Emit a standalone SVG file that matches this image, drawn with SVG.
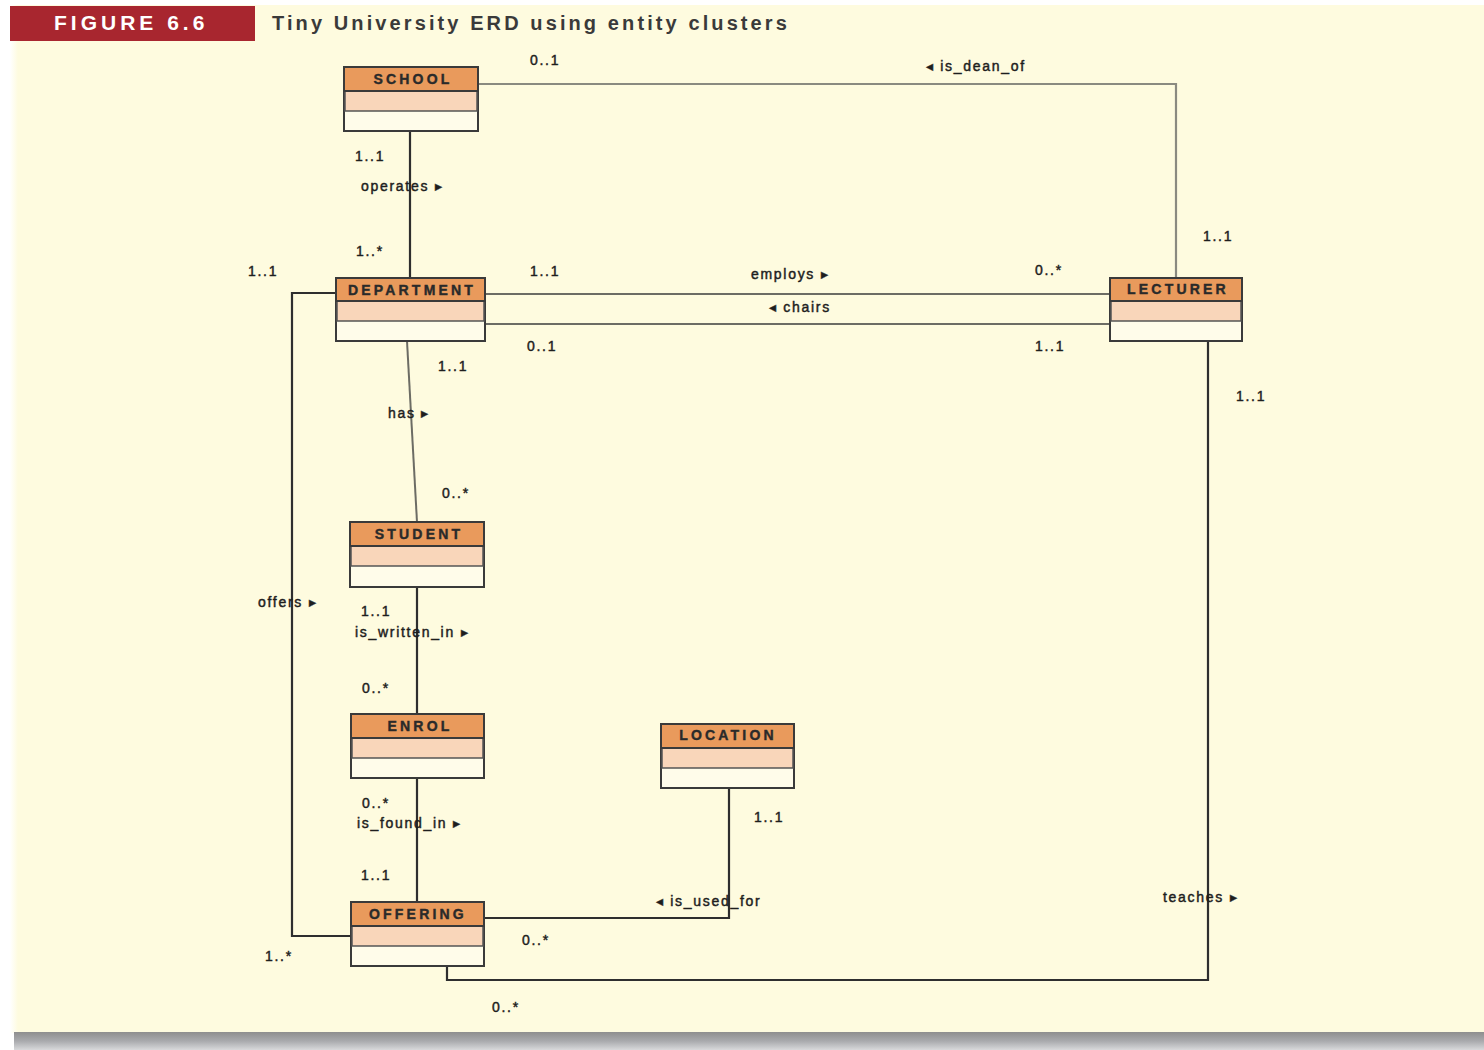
<svg xmlns="http://www.w3.org/2000/svg" width="1484" height="1050" viewBox="0 0 1484 1050">
  <defs>
    <linearGradient id="shadow" x1="0" y1="0" x2="0" y2="1">
      <stop offset="0" stop-color="#8e8e8e"/>
      <stop offset="0.5" stop-color="#a9aaad"/>
      <stop offset="1" stop-color="#d8d9db"/>
    </linearGradient>
    <linearGradient id="leftfade" x1="0" y1="0" x2="1" y2="0">
      <stop offset="0" stop-color="#ffffff"/>
      <stop offset="1" stop-color="#fefbdf"/>
    </linearGradient>
  </defs>
  <style>
    .ent-head { fill: #e99a5c; stroke: #3a3a3a; stroke-width: 2; }
    .ent-mid { fill: #f9d6ba; stroke: #555; stroke-width: 1.5; }
    .ent-body { fill: #fffcea; stroke: #3a3a3a; stroke-width: 2; }
    .ent-name { font-family: "Liberation Sans", Arial, sans-serif; font-size: 14px; font-weight: bold; fill: #2a2a2a; stroke: #2a2a2a; stroke-width: 0.4; text-anchor: middle; letter-spacing: 3.2px; }
    .lbl { font-family: "Liberation Sans", Arial, sans-serif; font-size: 14px; fill: #1e1e1e; stroke: #1e1e1e; stroke-width: 0.45; letter-spacing: 1.7px; }
    .dark { fill: none; stroke: #2e2e2e; stroke-width: 2.2; }
    .grey { fill: none; stroke: #8a8a80; stroke-width: 2.2; }
    .mid { fill: none; stroke: #6c6c64; stroke-width: 2; }
  </style>

  <!-- page -->
  <rect x="0" y="0" width="1484" height="1050" fill="#ffffff"/>
  <rect x="10" y="5" width="1474" height="1028" fill="#fefbdf"/>
  <rect x="10" y="5" width="8" height="1028" fill="url(#leftfade)"/>
  <rect x="14" y="1032" width="1470" height="18" fill="url(#shadow)"/>

  <!-- caption -->
  <g id="caption">
    <rect x="10" y="6" width="245" height="35" fill="#a8262f"/>
    <text x="54" y="30" font-family="Liberation Sans, Arial, sans-serif" font-size="21" font-weight="bold" fill="#ffffff" letter-spacing="4">FIGURE 6.6</text>
    <text x="272" y="30" font-family="Liberation Sans, Arial, sans-serif" font-size="20" font-weight="bold" fill="#3a3a3a" letter-spacing="3.1">Tiny University ERD using entity clusters</text>
  </g>

  <!-- relationships -->
  <g id="connectors">
    <polyline class="grey" points="478,84 1176,84 1176,278"/>
    <line class="dark" x1="410" y1="131" x2="410" y2="278"/>
    <line class="mid" x1="485" y1="294" x2="1110" y2="294"/>
    <line class="mid" x1="485" y1="324" x2="1110" y2="324"/>
    <line class="mid" x1="407" y1="341" x2="417" y2="522"/>
    <polyline class="dark" points="336,293 292,293 292,936 351,936"/>
    <line class="dark" x1="417" y1="587" x2="417" y2="714"/>
    <line class="dark" x1="417" y1="778" x2="417" y2="902"/>
    <polyline class="dark" points="484,918 729,918 729,788"/>
    <polyline class="dark" points="447,966 447,980 1208,980 1208,341"/>
  </g>

  <!-- entities -->
  <g id="school">
    <rect class="ent-body" x="344" y="67" width="134" height="64"/>
    <rect class="ent-mid" x="345" y="91" width="132" height="20"/>
    <rect class="ent-head" x="344" y="67" width="134" height="24"/>
    <text class="ent-name" x="413" y="84">SCHOOL</text>
  </g>
  <g id="department">
    <rect class="ent-body" x="336" y="278" width="149" height="63"/>
    <rect class="ent-mid" x="337" y="301" width="147" height="20"/>
    <rect class="ent-head" x="336" y="278" width="149" height="23"/>
    <text class="ent-name" x="412" y="295">DEPARTMENT</text>
  </g>
  <g id="lecturer">
    <rect class="ent-body" x="1110" y="278" width="132" height="63"/>
    <rect class="ent-mid" x="1111" y="301" width="130" height="20"/>
    <rect class="ent-head" x="1110" y="278" width="132" height="23"/>
    <text class="ent-name" x="1178" y="294">LECTURER</text>
  </g>
  <g id="student">
    <rect class="ent-body" x="350" y="522" width="134" height="65"/>
    <rect class="ent-mid" x="351" y="546" width="132" height="20"/>
    <rect class="ent-head" x="350" y="522" width="134" height="24"/>
    <text class="ent-name" x="419" y="539">STUDENT</text>
  </g>
  <g id="enrol">
    <rect class="ent-body" x="351" y="714" width="133" height="64"/>
    <rect class="ent-mid" x="352" y="738" width="131" height="20"/>
    <rect class="ent-head" x="351" y="714" width="133" height="24"/>
    <text class="ent-name" x="420" y="731">ENROL</text>
  </g>
  <g id="location">
    <rect class="ent-body" x="661" y="724" width="133" height="64"/>
    <rect class="ent-mid" x="662" y="748" width="131" height="20"/>
    <rect class="ent-head" x="661" y="724" width="133" height="24"/>
    <text class="ent-name" x="728" y="740">LOCATION</text>
  </g>
  <g id="offering">
    <rect class="ent-body" x="351" y="902" width="133" height="64"/>
    <rect class="ent-mid" x="352" y="926" width="131" height="20"/>
    <rect class="ent-head" x="351" y="902" width="133" height="24"/>
    <text class="ent-name" x="418" y="919">OFFERING</text>
  </g>

  <!-- relationship names and multiplicities -->
  <g id="labels">
    <text class="lbl" x="530" y="65">0..1</text>
    <text class="lbl" x="926" y="71">◂ is_dean_of</text>
    <text class="lbl" x="355" y="161">1..1</text>
    <text class="lbl" x="361" y="191">operates ▸</text>
    <text class="lbl" x="356" y="256">1..*</text>
    <text class="lbl" x="248" y="276">1..1</text>
    <text class="lbl" x="530" y="276">1..1</text>
    <text class="lbl" x="751" y="279">employs ▸</text>
    <text class="lbl" x="1035" y="275">0..*</text>
    <text class="lbl" x="1203" y="241">1..1</text>
    <text class="lbl" x="769" y="312">◂ chairs</text>
    <text class="lbl" x="527" y="351">0..1</text>
    <text class="lbl" x="1035" y="351">1..1</text>
    <text class="lbl" x="438" y="371">1..1</text>
    <text class="lbl" x="1236" y="401">1..1</text>
    <text class="lbl" x="388" y="418">has ▸</text>
    <text class="lbl" x="442" y="498">0..*</text>
    <text class="lbl" x="258" y="607">offers ▸</text>
    <text class="lbl" x="361" y="616">1..1</text>
    <text class="lbl" x="355" y="637">is_written_in ▸</text>
    <text class="lbl" x="362" y="693">0..*</text>
    <text class="lbl" x="362" y="808">0..*</text>
    <text class="lbl" x="357" y="828">is_found_in ▸</text>
    <text class="lbl" x="754" y="822">1..1</text>
    <text class="lbl" x="361" y="880">1..1</text>
    <text class="lbl" x="656" y="906">◂ is_used_for</text>
    <text class="lbl" x="1163" y="902">teaches ▸</text>
    <text class="lbl" x="522" y="945">0..*</text>
    <text class="lbl" x="265" y="961">1..*</text>
    <text class="lbl" x="492" y="1012">0..*</text>
  </g>
</svg>
